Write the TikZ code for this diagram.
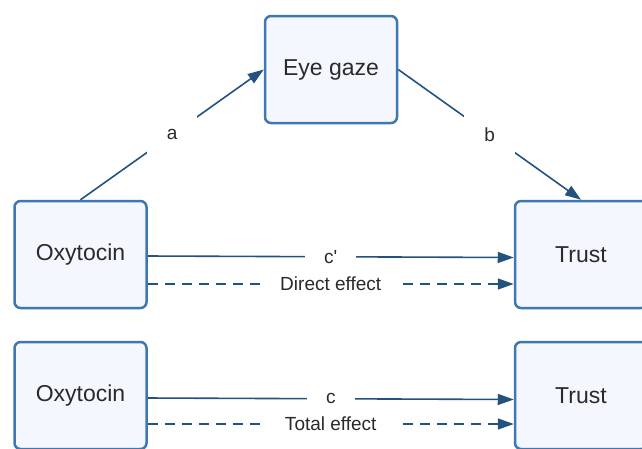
\documentclass[tikz,border=0pt]{standalone}
\usepackage{fontspec}
\setmainfont{Liberation Sans}
\usepackage{xcolor}
\usepackage{tikz}
\usetikzlibrary{positioning,arrows.meta}
\definecolor{boxBorder}{HTML}{3F77B0}
\definecolor{boxFill}{HTML}{F4F8FE}
\definecolor{lineBlue}{HTML}{24527F}
\definecolor{textGrey}{HTML}{2A2A2A}
\tikzstyle{varBox}  =[rectangle,rounded corners=6pt,draw=boxBorder,fill=boxFill,line width=2.5pt,
                      minimum width=132pt,minimum height=107pt,text=textGrey,font=\fontsize{23}{27}\selectfont]
\tikzstyle{pathLbl} =[fill=white,text=textGrey,font=\fontsize{19}{23}\selectfont,inner xsep=19pt,inner ysep=10pt]
\tikzstyle{effect}  =[->,draw=lineBlue,line width=1.6pt]

\begin{document}
\begin{tikzpicture}[x=1pt,y=-1pt,>={Triangle[length=16pt,width=11pt]},on grid]
      \useasboundingbox (0,0) rectangle (642,448);
      \node[varBox] (oxyA) at (80.5,254.5) {Oxytocin};
      \node[varBox] (gaze) [above right = 185pt and 250.5pt of oxyA] {Eye gaze};
      \node[varBox] (trustA) [right = 500.5pt of oxyA] {Trust};
      \node[varBox] (oxyB) [below = 141pt of oxyA] {Oxytocin};
      \node[varBox] (trustB) [right = 500.5pt of oxyB] {Trust};
      % mediated path
      \draw[effect] (oxyA.north) -- node[pathLbl,inner ysep=15pt,inner xsep=20pt] {a} (gaze.west);
      \draw[effect] (gaze.east) -- node[pathLbl,inner ysep=15pt,inner xsep=20pt] {b} (trustA.north);
      % direct and total paths
      \draw[effect] ([yshift=-1.5pt]oxyA.east) -- node[pathLbl] {c\textquotesingle} ([yshift=-3pt]trustA.west);
      \draw[effect,dash pattern=on 10pt off 7pt] ([yshift=-29.5pt]oxyA.east) -- node[pathLbl] {Direct effect} ([yshift=-29.5pt]trustA.west);
      \draw[effect] ([yshift=-2.5pt]oxyB.east) -- node[pathLbl] {c} ([yshift=-4pt]trustB.west);
      \draw[effect,dash pattern=on 10pt off 7pt] ([yshift=-28.5pt]oxyB.east) -- node[pathLbl] {Total effect} ([yshift=-28.5pt]trustB.west);
    \end{tikzpicture}
\end{document}
